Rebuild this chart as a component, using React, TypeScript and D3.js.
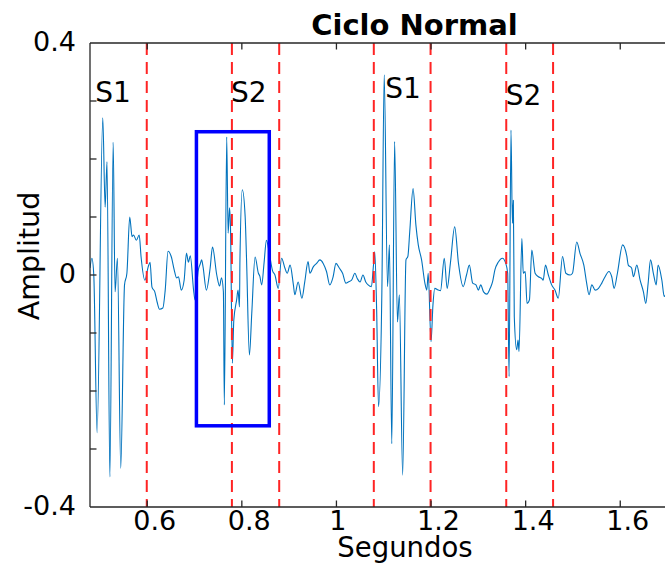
import React from "react";
import * as d3 from "d3";

// Signal samples (seconds, amplitude)
const timeS = [
  0.479,0.483,0.487,0.494,0.506,0.511,0.515,0.521,0.528,0.532,
  0.537,0.544,0.552,0.557,0.563,0.568,0.571,0.577,0.583,0.587,
  0.595,0.602,0.606,0.610,0.616,0.621,0.626,0.633,0.638,0.644,
  0.651,0.657,0.662,0.666,0.672,0.678,0.683,0.687,0.691,0.698,
  0.701,0.708,0.712,0.715,0.718,0.725,0.733,0.738,0.747,0.753,
  0.757,0.761,0.763,0.768,0.771,0.774,0.776,0.780,0.783,0.789,
  0.792,0.795,0.796,0.801,0.807,0.810,0.816,0.821,0.828,0.835,
  0.838,0.842,0.847,0.852,0.858,0.865,0.870,0.877,0.884,0.891,
  0.896,0.902,0.909,0.912,0.919,0.927,0.933,0.940,0.944,0.951,
  0.958,0.965,0.972,0.979,0.986,0.993,0.999,1.006,1.013,1.020,
  1.025,1.032,1.039,1.044,1.050,1.056,1.062,1.067,1.074,1.078,
  1.081,1.085,1.089,1.096,1.101,1.108,1.112,1.117,1.123,1.129,
  1.133,1.140,1.147,1.151,1.155,1.162,1.168,1.173,1.180,1.187,
  1.191,1.194,1.200,1.204,1.208,1.215,1.220,1.228,1.234,1.241,
  1.250,1.258,1.268,1.275,1.281,1.288,1.295,1.300,1.305,1.311,
  1.318,1.325,1.330,1.335,1.342,1.351,1.358,1.362,1.365,1.369,
  1.372,1.374,1.376,1.381,1.384,1.386,1.392,1.395,1.399,1.403,
  1.408,1.413,1.420,1.427,1.434,1.437,1.442,1.448,1.455,1.462,
  1.469,1.478,1.485,1.494,1.499,1.508,1.515,1.523,1.529,1.534,
  1.540,1.547,1.554,1.561,1.568,1.576,1.582,1.587,1.594,1.605,
  1.614,1.617,1.624,1.628,1.635,1.642,1.649,1.654,1.659,1.664,
  1.670,1.676,1.680,1.688,1.693,1.701,
];

const amplitude = [
  0.012,0.029,0,-0.272,0.271,0.117,0.195,-0.348,0.229,-0.029,
  0.029,-0.333,-0.017,0.003,0.100,0.066,0.069,0.060,0.069,0.031,
  -0.009,0.014,0.022,-0.021,-0.029,-0.047,-0.059,-0.057,-0.026,0.041,
  0.031,0.009,-0.005,-0.003,-0.026,-0.009,0.038,0.022,0.033,-0.026,
  -0.043,0.009,0.019,0.026,0.014,-0.026,0.012,0.048,0,-0.019,
  -0.005,-0.029,-0.224,0.238,0.072,0.116,0.083,-0.152,-0.078,-0.043,
  -0.026,-0.055,0.026,0.147,0.101,0.026,-0.138,-0.066,0.031,0.003,
  -0.002,-0.017,0.021,0.060,0.038,0.007,0,-0.023,0.029,0.012,
  0.003,0.017,-0.017,-0.034,-0.012,-0.040,-0.012,0.023,0.003,0.014,
  0.020,0.026,0.020,0.006,-0.017,-0.003,0.020,0.012,0.003,-0.014,
  -0.012,-0.009,0.003,-0.006,-0.012,0,-0.012,-0.017,-0.020,0.014,
  0.040,-0.060,-0.227,-0.031,0.345,-0.020,0.052,-0.291,0.230,-0.081,
  -0.034,-0.345,0.026,0.032,0.075,0.149,0.086,0.052,0.026,-0.014,
  -0.026,0.003,-0.115,-0.052,-0.023,-0.026,-0.027,0.029,-0.023,0.021,
  0.083,0.020,-0.020,0,0.017,-0.014,-0.017,-0.026,-0.017,-0.029,
  -0.033,-0.023,-0.012,0.009,0.022,0.029,0.020,0.003,-0.175,0.250,
  0.089,0.129,-0.072,-0.129,-0.112,-0.132,0.063,0.003,0.006,-0.049,
  -0.043,0.043,0.003,-0.003,-0.006,-0.009,0.017,0,-0.017,-0.026,
  -0.040,0.032,0.003,0,0.003,0.057,0.037,0.017,-0.014,-0.034,
  -0.017,-0.026,-0.023,-0.014,-0.003,0.006,-0.003,-0.023,0.003,0.052,
  0.032,0.017,0.012,-0.003,0.017,-0.009,-0.029,-0.049,-0.014,0.026,
  0.003,-0.017,0.017,-0.009,-0.037,-0.017,
];

// Segment boundaries (dashed red lines), seconds
const boundaries = [0.599, 0.779, 0.879, 1.079, 1.199, 1.359, 1.458];

// Heart sound annotations
const soundLabels = ["S1", "S2", "S1", "S2"];
const soundLabelT = [0.49, 0.777, 1.103, 1.358];
const soundLabelA = [0.298, 0.298, 0.305, 0.293];

// Highlight box
const boxT = [0.704, 0.858];
const boxA = [-0.26, 0.247];

// Axes
const xDomain = [0.479, 1.85];
const yDomain = [-0.4, 0.4];
const xTicks = [0.6, 0.8, 1, 1.2, 1.4, 1.6];
const xTickLabels = ["0.6", "0.8", "1", "1.2", "1.4", "1.6"];
const yTicks = [-0.4, 0, 0.4];
const yTickLabels = ["-0.4", "0", "0.4"];
const yMinorTicks = [-0.3, -0.2, -0.1, 0, 0.1, 0.2, 0.3];

const title = "Ciclo Normal";
const xLabel = "Segundos";
const yLabel = "Amplitud";

export default function App() {
  const W = 665;
  const H = 564;
  const left = 90;
  const right = 738.5;
  const top = 43;
  const bottom = 507;
  const x = d3.scaleLinear().domain(xDomain).range([left, right]);
  const y = d3.scaleLinear().domain(yDomain).range([bottom, top]);
  const pts: [number, number][] = timeS.map((t, i) => [t, amplitude[i]]);
  const line = d3
    .line<[number, number]>()
    .x((d) => x(d[0]))
    .y((d) => y(d[1]))
    .curve(d3.curveMonotoneX);
  const axisColor = "#262626";
  const font = "'DejaVu Sans', sans-serif";
  const tickLen = 6.5;

  return (
    <svg
      width={W}
      height={H}
      style={{ position: "absolute", left: 0, top: 0, background: "#fff", display: "block" }}
      fontFamily={font}
    >
      <defs>
        <clipPath id="plotClip">
          <rect x={left} y={top} width={right - left} height={bottom - top} />
        </clipPath>
      </defs>
      <rect x={0} y={0} width={W} height={H} fill="#fff" />

      {/* signal */}
      <path
        d={line(pts) || ""}
        fill="none"
        stroke="#0072BD"
        strokeWidth={1.1}
        strokeLinejoin="round"
        clipPath="url(#plotClip)"
      />

      {/* boundaries */}
      {boundaries.map((b, i) => (
        <line
          key={"b" + i}
          x1={x(b)}
          x2={x(b)}
          y1={top}
          y2={bottom}
          stroke="#ff2424"
          strokeWidth={2}
          strokeDasharray="12,7"
        />
      ))}

      {/* highlight box */}
      <rect
        x={x(boxT[0])}
        y={y(boxA[1])}
        width={x(boxT[1]) - x(boxT[0])}
        height={y(boxA[0]) - y(boxA[1])}
        fill="none"
        stroke="#0000ff"
        strokeWidth={3.5}
      />

      {/* annotations */}
      {soundLabels.map((s, i) => (
        <text
          key={"s" + i}
          x={x(soundLabelT[i])}
          y={y(soundLabelA[i])}
          fontSize={28}
          fill="#000"
        >
          {s}
        </text>
      ))}

      {/* axes lines */}
      <line x1={left} x2={left} y1={top} y2={bottom} stroke={axisColor} strokeWidth={1.3} />
      <line x1={left} x2={right} y1={bottom} y2={bottom} stroke={axisColor} strokeWidth={1.3} />
      <line x1={left} x2={right} y1={top} y2={top} stroke={axisColor} strokeWidth={1.3} />
      <line x1={right} x2={right} y1={top} y2={bottom} stroke={axisColor} strokeWidth={1.3} />

      {/* x ticks */}
      {xTicks.map((t, i) => (
        <g key={"xt" + i}>
          <line x1={x(t)} x2={x(t)} y1={bottom} y2={bottom - tickLen} stroke={axisColor} strokeWidth={1.3} />
          <line x1={x(t)} x2={x(t)} y1={top} y2={top + tickLen} stroke={axisColor} strokeWidth={1.3} />
          <text
            x={x(t) + (xTickLabels[i].length > 1 ? 7.5 : 1.5)}
            y={bottom + 22.5}
            fontSize={27}
            textAnchor="middle"
            fill="#000"
          >
            {xTickLabels[i]}
          </text>
        </g>
      ))}

      {/* y ticks */}
      {yMinorTicks.map((v, i) => (
        <line key={"ym" + i} x1={left} x2={left + tickLen} y1={y(v)} y2={y(v)} stroke={axisColor} strokeWidth={1.3} />
      ))}
      {yTicks.map((v, i) => (
        <text key={"yt" + i} x={left - 14} y={y(v) + 8} fontSize={27} textAnchor="end" fill="#000">
          {yTickLabels[i]}
        </text>
      ))}

      {/* labels */}
      <text x={414.5} y={35} fontSize={29} fontWeight="bold" textAnchor="middle" fill="#000">
        {title}
      </text>
      <text x={405} y={556.5} fontSize={27.5} textAnchor="middle" fill="#000">
        {xLabel}
      </text>
      <text
        transform={`translate(39,256) rotate(-90)`}
        fontSize={28.5}
        textAnchor="middle"
        fill="#000"
      >
        {yLabel}
      </text>
    </svg>
  );
}
